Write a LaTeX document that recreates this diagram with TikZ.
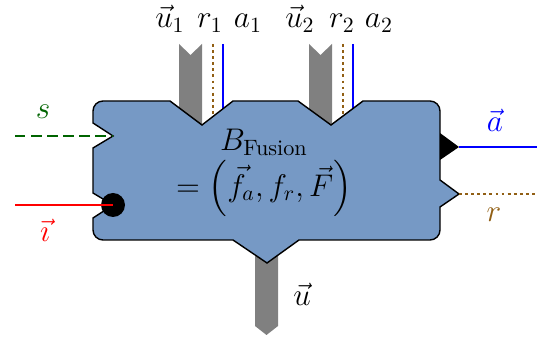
\documentclass[tikz,border=0pt]{standalone}
\usepackage{amsmath}
\definecolor{bodyblue}{RGB}{118,153,197}
\definecolor{rbrown}{RGB}{145,95,20}
\definecolor{sgreen}{RGB}{0,100,0}
\begin{document}
\begin{tikzpicture}[x=0.46pt,y=-0.46pt,
  bodyshape/.style={draw=black,line width=0.65pt,fill=bodyblue,line join=miter},
  grayarrow/.style={fill=gray,draw=none},
  aline/.style={blue,line width=1pt},
  rline/.style={rbrown,line width=1.3pt,dash pattern=on 1.3pt off 1.5pt},
  sline/.style={sgreen,line width=1.35pt,dash pattern=on 4.8pt off 2.6pt},
  iline/.style={red,line width=1.3pt},
  lbl/.style={inner sep=0pt,font=\fontsize{14.6}{17}\selectfont}]
\useasboundingbox (0,0) rectangle (537,343);
% port coordinates
\coordinate (r1top) at (213,44);
\coordinate (r1end) at (213,125);
\coordinate (a1top) at (223,44);
\coordinate (a1end) at (223,125);
\coordinate (r2top) at (343,44);
\coordinate (r2end) at (343,125);
\coordinate (a2top) at (353,44);
\coordinate (a2end) at (353,125);
\coordinate (sin) at (15,136);
\coordinate (sport) at (113,136);
\coordinate (iin) at (15,205);
\coordinate (iport) at (113,205);
\coordinate (aport) at (459,147);
\coordinate (aout) at (537,147);
\coordinate (rport) at (459,194);
\coordinate (rout) at (537,194);
% gray input/output arrows (behind the block)
\fill[grayarrow] (179,44) -- (190.5,55) -- (202,44) -- (202,130) -- (179,130) -- cycle;
\fill[grayarrow] (309,44) -- (320.5,55) -- (332,44) -- (332,130) -- (309,130) -- cycle;
\fill[grayarrow] (255,250) -- (255,326) -- (266.5,335) -- (278,326) -- (278,250) -- cycle;
% top signal lines
\draw[rline] (r1top) -- (r1end);
\draw[aline] (a1top) -- (a1end);
\draw[rline] (r2top) -- (r2end);
\draw[aline] (a2top) -- (a2end);
% block
\draw[bodyshape] (93,111) .. controls (93,105.5) and (97.5,101) .. (103,101)
  -- (170,101) -- (202,125) -- (233,101) -- (298,101) -- (331,125) -- (363,101)
  -- (430,101) .. controls (435.5,101) and (440,105.5) .. (440,111)
  -- (440,180) -- (459,194) -- (440,207)
  -- (440,230) .. controls (440,235.5) and (435.5,240) .. (430,240)
  -- (299,240) -- (267,263) -- (233,240)
  -- (103,240) .. controls (97.5,240) and (93,235.5) .. (93,230)
  -- (93,218) -- (113,205) -- (93,193) -- (93,148) -- (113,136) -- (93,123) -- cycle;
% ports
\fill[black] (440,133) -- (aport) -- (440,160) -- cycle;
\fill[black] (iport) circle[radius=12];
% side lines
\draw[sline] (sin) -- (sport);
\draw[iline] (iin) -- (iport);
\draw[aline] (aport) -- (aout);
\draw[rline] (rport) -- (rout);
% labels
\node[lbl,anchor=base] (lu1) at (170,28) {$\vec{u}_1$};
\node[lbl,anchor=base] (lr1) at (210,28) {$r_1$};
\node[lbl,anchor=base] (la1) at (248,28) {$a_1$};
\node[lbl,anchor=base] (lu2) at (300,28) {$\vec{u}_2$};
\node[lbl,anchor=base] (lr2) at (342,28) {$r_2$};
\node[lbl,anchor=base] (la2) at (379,28) {$a_2$};
\node[lbl,text=sgreen] (ls) at (43,112) {$s$};
\node[lbl,text=red] (li) at (45,230) {$\vec{\imath}$};
\node[lbl,text=blue] (la) at (495,120) {$\vec{a}$};
\node[lbl,text=rbrown] (lr) at (494,215) {$r$};
\node[lbl] (lu) at (302,294) {$\vec{u}$};
\node[lbl,align=center] (lb) at (264,173) {$B_{\text{Fusion}}$\\[1pt]$=\left(\vec{f}_a,f_r,\vec{F}\right)$};
\end{tikzpicture}
\end{document}
